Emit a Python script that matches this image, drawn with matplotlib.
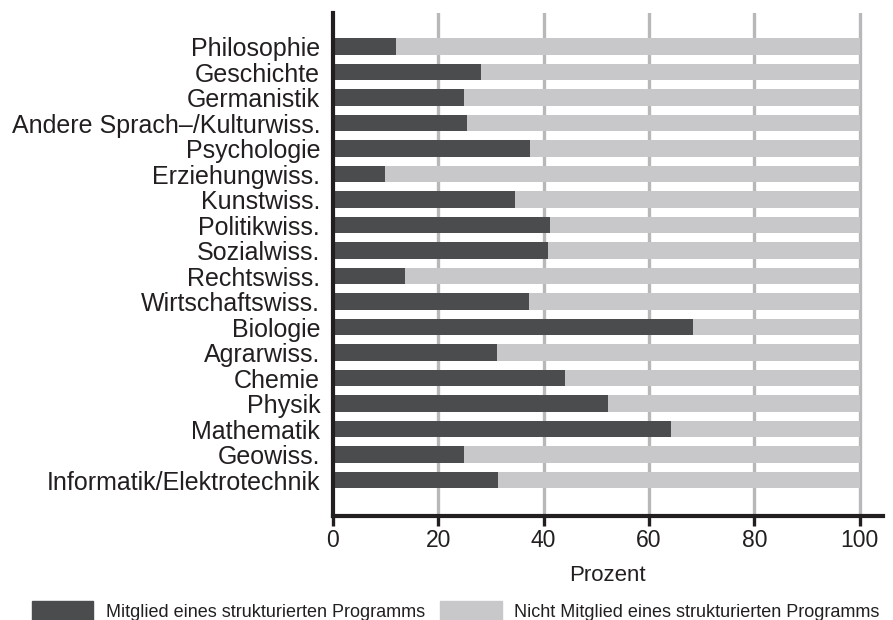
import matplotlib
matplotlib.use("Agg")
import matplotlib.pyplot as plt
from matplotlib.patches import Patch

# data (percent)
faecher = ["Philosophie", "Geschichte", "Germanistik", "Andere Sprach\u2013/Kulturwiss.",
           "Psychologie", "Erziehungwiss.", "Kunstwiss.", "Politikwiss.", "Sozialwiss.",
           "Rechtswiss.", "Wirtschaftswiss.", "Biologie", "Agrarwiss.", "Chemie",
           "Physik", "Mathematik", "Geowiss.", "Informatik/Elektrotechnik"]
mitglied = [12.0, 28.1, 24.9, 25.5, 37.4, 10.0, 34.6, 41.2, 40.9,
            13.8, 37.3, 68.3, 31.1, 44.0, 52.3, 64.2, 24.9, 31.4]
nicht_mitglied = [100 - v for v in mitglied]
xticks = [0, 20, 40, 60, 80, 100]

dark = "#4b4c4e"
light = "#c8c8ca"
gridc = "#b8b8bb"
black = "#231f20"

plt.rcParams["font.family"] = ["Liberation Sans", "DejaVu Sans"]

fig = plt.figure(figsize=(8.93, 6.2), dpi=100)
ax = fig.add_axes([0.3725, 0.1685, 0.6163, 0.811])

pos = list(range(len(faecher)))
ax.barh(pos, mitglied, height=0.655, color=dark, zorder=3)
ax.barh(pos, nicht_mitglied, left=mitglied, height=0.655, color=light, zorder=3)

for t in xticks[1:]:
    ax.axvline(t, color=gridc, lw=2.4, zorder=1)

ax.set_xlim(0, 104.4)
ax.set_ylim(18.39, -1.33)
ax.set_yticks(pos)
ax.set_yticklabels(faecher, fontsize=18, color=black)
ax.set_xticks(xticks)
ax.set_xticklabels([str(t) for t in xticks], fontsize=16.5, color=black)
ax.tick_params(axis="y", length=0, pad=9)
ax.tick_params(axis="x", length=7, width=2.4, color=black, pad=3)
ax.set_xlabel("Prozent", fontsize=16, color=black, labelpad=9)

for s in ["top", "right"]:
    ax.spines[s].set_visible(False)
for s in ["left", "bottom"]:
    ax.spines[s].set_linewidth(3)
    ax.spines[s].set_color(black)
    ax.spines[s].set_zorder(4)

handles = [Patch(color=dark, label="Mitglied eines strukturierten Programms"),
           Patch(color=light, label="Nicht Mitglied eines strukturierten Programms")]
fig.legend(handles=handles, loc="center left", bbox_to_anchor=(0.0355, 0.0145),
           ncol=2, frameon=False, borderpad=0, borderaxespad=0,
           prop={"size": 13},
           handlelength=3.4, handleheight=1.2, handletextpad=0.7, columnspacing=0.85,
           labelcolor=black)

fig.savefig("out.png", dpi=100)
